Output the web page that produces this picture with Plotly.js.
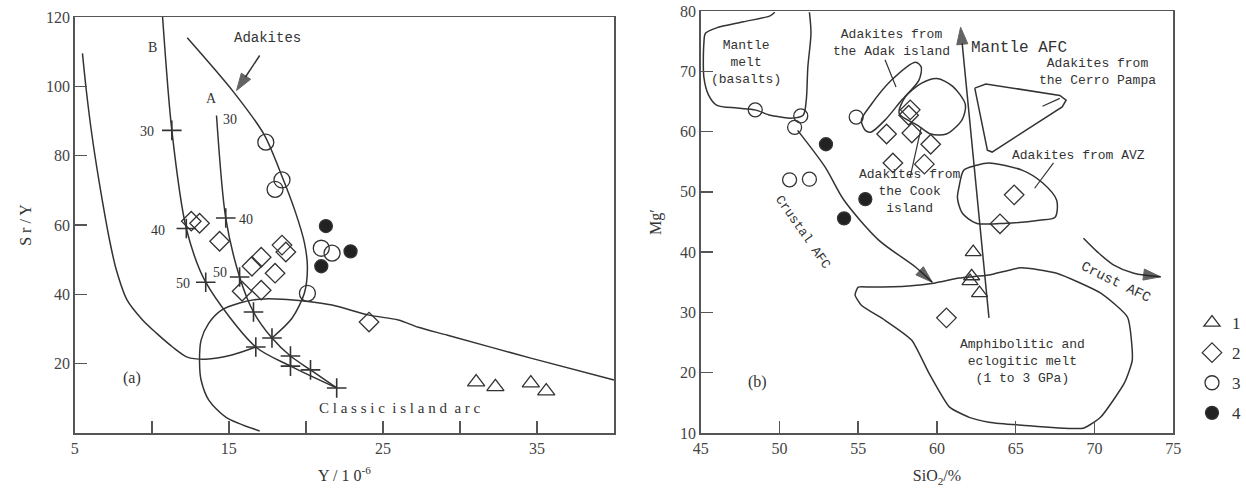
<!DOCTYPE html>
<html>
<head>
<meta charset="utf-8">
<script src="https://cdn.plot.ly/plotly-3.0.1.min.js"></script>
<style>html,body{margin:0;padding:0;background:#fff;}#chart{width:1246px;height:491px;}</style>
</head>
<body>
<div id="chart"></div>
<script>
// ---------- Panel (a): Sr/Y vs Y ----------
const aTriX = [31.05, 32.3, 34.6, 35.6];
const aTriY = [14.7, 13.3, 14.4, 12.1];
const aDiamondX = [12.56, 13.1, 14.4, 18.45, 18.7, 17.1, 16.5, 18.0, 15.86, 17.1, 24.1];
const aDiamondY = [61.1, 60.5, 55.3, 54.2, 52.2, 50.7, 48.1, 46.1, 40.9, 41.2, 32.0];
const aCircleX = [17.4, 18.45, 18.0, 21.0, 21.7, 20.1];
const aCircleY = [83.9, 73.0, 70.3, 53.3, 51.9, 40.3];
const aFilledX = [21.3, 22.9, 21.0];
const aFilledY = [59.7, 52.4, 48.1];

// melting curves B and A with tick crosses
const curveBX = [10.7, 11.3, 12.24, 13.5, 16.75, 19.0, 22.0];
const curveBY = [120, 87.3, 59.0, 43.5, 24.8, 19.3, 13.0];
const crossBX = [11.3, 12.24, 13.5, 16.75, 19.0, 22.0];
const crossBY = [87.3, 59.0, 43.5, 24.8, 19.3, 13.0];
const curveAX = [14.2, 14.8, 15.7, 16.6, 17.8, 19.0, 20.3, 22.0];
const curveAY = [91.6, 62.0, 45.0, 34.9, 27.4, 22.2, 18.2, 13.0];
const crossAX = [14.8, 15.7, 16.6, 17.8, 19.0, 20.3];
const crossAY = [62.0, 45.0, 34.9, 27.4, 22.2, 18.2];

// field boundaries
const adakiteX = [12.3, 15.3, 17.3, 18.5, 19.3, 19.9, 20.1, 19.9, 19.1, 17.8];
const adakiteY = [114, 98.4, 86.0, 73.5, 64.0, 55.0, 47.9, 40.3, 33.1, 27.4];
const leftCurveX = [5.5, 5.75, 6.1, 6.6, 7.26, 7.7, 8.4, 9.4, 10.3, 11.35, 12.3, 13.5, 15.2, 16.75];
const leftCurveY = [109.5, 98.8, 86.4, 72.0, 55.6, 47.0, 38.3, 32.6, 28.8, 24.8, 21.9, 21.3, 22.5, 24.8];
const arcX = [40, 34.6, 29.2, 27.3, 26.0, 24.1, 21.7, 20.0, 18.45, 17.0, 15.7, 14.5, 13.7, 13.2, 13.1, 13.2, 13.7, 14.8, 17.0];
const arcY = [15.3, 21.6, 28.2, 30.5, 32.6, 34.0, 36.9, 38.0, 38.6, 38.6, 37.5, 35.4, 31.7, 26.8, 20.2, 15.3, 9.5, 4.6, 0.6];
const adakArrowX = [17.0, 15.5];
const adakArrowY = [108.9, 98.8];

const aXTicks = [5, 15, 25, 35];
const aYTicks = [20, 40, 60, 80, 100, 120];

// ---------- Panel (b): Mg# vs SiO2 ----------
const bTriX = [62.3, 62.2, 62.1, 62.7];
const bTriY = [40.0, 36.0, 35.2, 33.2];
const bDiamondX = [56.8, 58.3, 58.2, 58.4, 59.6, 57.2, 59.2, 64.9, 64.0, 60.6];
const bDiamondY = [59.6, 63.6, 62.7, 59.75, 57.9, 54.8, 54.6, 49.5, 44.7, 29.1];
const bCircleX = [48.46, 51.35, 50.96, 50.64, 51.9, 54.87];
const bCircleY = [63.6, 62.6, 60.7, 52.0, 52.1, 62.4];
const bFilledX = [52.95, 55.45, 54.1];
const bFilledY = [57.9, 48.8, 45.6];

const mantleMeltX = [49.7, 49.4, 47.7, 46.0, 45.3, 45.2, 45.2, 45.5, 46.0, 47.3, 48.46, 49.4, 50.1, 50.7, 51.5, 51.7, 51.8, 52.0, 51.9];
const mantleMeltY = [79.8, 79.2, 78.2, 77.2, 76.3, 74.7, 69.0, 66.05, 64.4, 63.9, 63.6, 62.7, 62.4, 62.2, 62.7, 65.2, 70.7, 76.3, 79.8];
const adakIslandX = [55.45, 55.2, 55.8, 57.1, 58.65, 59.0, 58.85, 57.75, 56.7, 55.8, 55.45];
const adakIslandY = [60.2, 61.9, 64.4, 68.5, 71.5, 70.7, 68.5, 65.2, 61.9, 59.9, 60.2];
const cookIslandX = [57.6, 58.0, 59.0, 60.0, 61.0, 61.8, 61.6, 60.6, 59.6, 58.8, 57.6];
const cookIslandY = [63.0, 65.8, 68.0, 68.8, 67.5, 64.5, 62.0, 59.6, 59.6, 61.0, 63.0];
const cerroPampaX = [62.4, 63.1, 67.8, 68.2, 67.95, 63.5, 63.2, 62.4];
const cerroPampaY = [67.2, 67.9, 66.0, 65.2, 64.1, 56.6, 56.9, 67.2];
const avzX = [61.4, 61.7, 62.5, 63.3, 65.4, 66.7, 67.6, 67.5, 66.5, 64.4, 62.5, 61.6, 61.3, 61.4];
const avzY = [50.8, 53.6, 54.4, 54.8, 53.6, 51.5, 48.6, 45.8, 45.3, 44.8, 44.8, 46.5, 49.0, 50.8];
const amphX = [55.0, 54.8, 55.2, 56.7, 58.4, 59.5, 60.8, 62.05, 63.3, 65.4, 69.3, 70.4, 71.9, 72.4, 72.1, 70.4, 67.6, 65.3, 63.3, 61.4, 59.9, 58.2, 55.8, 55.0];
const amphY = [34.2, 32.9, 31.2, 28.7, 25.4, 19.9, 14.3, 12.6, 11.8, 11.3, 10.8, 12.65, 18.3, 22.1, 29.2, 33.2, 36.5, 37.4, 36.2, 35.7, 34.9, 34.4, 34.2, 34.2];

const adakPointerX = [56.7, 57.4];  const adakPointerY = [71.9, 67.4];
const cookPointerX = [59.0, 58.3];  const cookPointerY = [60.7, 52.5];
const cerroPointerX = [66.7, 67.8]; const cerroPointerY = [64.2, 65.5];
const avzPointerX = [66.2, 67.4];   const avzPointerY = [50.6, 54.8];

const crustalAfcX = [51.15, 52.9, 54.1, 56.3, 58.65, 59.7];
const crustalAfcY = [60.2, 54.1, 48.6, 42.0, 37.5, 35.0];
const crustAfcX = [69.3, 70.2, 71.2, 72.5, 74.2];
const crustAfcY = [42.3, 40.0, 37.9, 36.5, 35.9];
const mantleAfcX = [63.3, 61.5];
const mantleAfcY = [29.1, 77.3];

const bXTicks = [45, 50, 55, 60, 65, 70, 75];
const bYTicks = [10, 20, 30, 40, 50, 60, 70, 80];
const legendNames = ['1', '2', '3', '4'];

// ---------- styles ----------
const INK = '#333';
const LW = 1.5;
const SERIF = 'Liberation Serif, serif';
const MONO = 'Liberation Mono, monospace';

function line(x, y, xa, ya, opts) {
  return Object.assign({x: x, y: y, xaxis: xa, yaxis: ya, mode: 'lines', type: 'scatter',
    line: {color: INK, width: LW, shape: 'spline', smoothing: 0.8}, showlegend: false, hoverinfo: 'skip'}, opts || {});
}
// line ending in an arrowhead (marker 'arrow' oriented along the last segment)
function arrowLine(x, y, xa, ya, headSize, shape) {
  const sizes = x.map((v, i) => (i === x.length - 1 ? headSize : 0));
  return {x: x, y: y, xaxis: xa, yaxis: ya, mode: 'lines+markers', type: 'scatter', showlegend: false, hoverinfo: 'skip',
    line: {color: INK, width: LW, shape: shape || 'spline', smoothing: 0.8},
    marker: {symbol: 'arrow', angleref: 'previous', size: sizes, color: '#222', line: {color: '#222', width: 1}}};
}
function pts(x, y, xa, ya, symbol, size, name, show, fill) {
  return {x: x, y: y, xaxis: xa, yaxis: ya, mode: 'markers', type: 'scatter', name: name,
    showlegend: show, legendgroup: name,
    marker: {symbol: symbol, size: size, color: fill ? '#222' : INK, line: {color: INK, width: 1.3}}};
}
function crosses(x, y) {
  return {x: x, y: y, xaxis: 'x', yaxis: 'y', mode: 'markers', type: 'scatter', showlegend: false,
    marker: {symbol: 'cross-thin-open', size: 14, color: INK, line: {color: INK, width: 1.6}}};
}

const traces = [
  // panel a lines
  line(curveBX, curveBY, 'x', 'y'),
  line(curveAX, curveAY, 'x', 'y'),
  line(adakiteX, adakiteY, 'x', 'y'),
  line(leftCurveX, leftCurveY, 'x', 'y'),
  line(arcX, arcY, 'x', 'y'),
  arrowLine(adakArrowX, adakArrowY, 'x', 'y', 18, 'linear'),
  crosses(crossBX, crossBY),
  crosses(crossAX, crossAY),
  pts(aTriX, aTriY, 'x', 'y', 'triangle-up-open', 15, '1', false, false),
  pts(aDiamondX, aDiamondY, 'x', 'y', 'diamond-open', 15, '2', false, false),
  pts(aCircleX, aCircleY, 'x', 'y', 'circle-open', 16, '3', false, false),
  pts(aFilledX, aFilledY, 'x', 'y', 'circle', 13, '4', false, true),
  // panel b lines
  line(mantleMeltX, mantleMeltY, 'x2', 'y2'),
  line(adakIslandX, adakIslandY, 'x2', 'y2'),
  line(cookIslandX, cookIslandY, 'x2', 'y2'),
  line(cerroPampaX, cerroPampaY, 'x2', 'y2', {line: {color: INK, width: LW, shape: 'linear'}}),
  line(avzX, avzY, 'x2', 'y2'),
  line(amphX, amphY, 'x2', 'y2', {line: {color: INK, width: LW, shape: 'spline', smoothing: 0.5}}),
  line(adakPointerX, adakPointerY, 'x2', 'y2', {line: {color: INK, width: 1.2}}),
  line(cookPointerX, cookPointerY, 'x2', 'y2', {line: {color: INK, width: 1.2}}),
  line(cerroPointerX, cerroPointerY, 'x2', 'y2', {line: {color: INK, width: 1.2}}),
  line(avzPointerX, avzPointerY, 'x2', 'y2', {line: {color: INK, width: 1.2}}),
  arrowLine(crustalAfcX, crustalAfcY, 'x2', 'y2', 18),
  arrowLine(crustAfcX, crustAfcY, 'x2', 'y2', 18),
  arrowLine(mantleAfcX, mantleAfcY, 'x2', 'y2', 18, 'linear'),
  pts(bTriX, bTriY, 'x2', 'y2', 'triangle-up-open', 14, legendNames[0], true, false),
  pts(bDiamondX, bDiamondY, 'x2', 'y2', 'diamond-open', 15, legendNames[1], true, false),
  pts(bCircleX, bCircleY, 'x2', 'y2', 'circle-open', 14, legendNames[2], true, false),
  pts(bFilledX, bFilledY, 'x2', 'y2', 'circle', 13, legendNames[3], true, true)
];

function txt(x, y, text, xr, yr, size, family, extra) {
  return Object.assign({x: x, y: y, xref: xr, yref: yr, text: text, showarrow: false,
    font: {family: family || MONO, size: size || 13, color: INK}}, extra || {});
}

const annotations = [
  // panel a
  txt(17.5, 113.8, 'Adakites', 'x', 'y', 14),
  txt(10.04, 111.2, 'B', 'x', 'y', 14, SERIF),
  txt(13.9, 96.5, 'A', 'x', 'y', 14, SERIF),
  txt(9.7, 87.0, '30', 'x', 'y', 14, SERIF),
  txt(15.1, 90.5, '30', 'x', 'y', 14, SERIF),
  txt(10.4, 58.5, '40', 'x', 'y', 14, SERIF),
  txt(16.1, 61.7, '40', 'x', 'y', 14, SERIF),
  txt(12.0, 43.2, '50', 'x', 'y', 14, SERIF),
  txt(14.4, 46.4, '50', 'x', 'y', 14, SERIF),
  txt(8.7, 15.8, '(a)', 'x', 'y', 16, SERIF),
  txt(26.1, 7.2, 'C l a s s i c  i s l a n d  a r c', 'x', 'y', 15, SERIF),
  // panel b
  txt(47.9, 71.4, 'Mantle<br>melt<br>(basalts)', 'x2', 'y2', 13),
  txt(57.1, 74.7, 'Adakites from<br>the Adak island', 'x2', 'y2', 13),
  txt(58.3, 50.0, 'Adakites from<br>the Cook<br>island', 'x2', 'y2', 13),
  txt(65.2, 73.8, 'Mantle AFC', 'x2', 'y2', 16),
  txt(70.2, 69.9, 'Adakites from<br>the Cerro Pampa', 'x2', 'y2', 13),
  txt(69.0, 56.1, 'Adakites from AVZ', 'x2', 'y2', 13),
  txt(71.35, 35.0, 'Crust AFC', 'x2', 'y2', 14, MONO, {textangle: 26}),
  txt(51.5, 43.3, 'Crustal AFC', 'x2', 'y2', 13, MONO, {textangle: 55}),
  txt(65.4, 21.8, 'Amphibolitic and<br>eclogitic melt<br>(1 to 3 GPa)', 'x2', 'y2', 13),
  txt(48.6, 18.5, '(b)', 'x2', 'y2', 16, SERIF)
];

function axis(extra) {
  return Object.assign({showgrid: false, zeroline: false, showline: true, mirror: true, linecolor: '#555', linewidth: 1.5,
    ticks: 'inside', ticklen: 12, tickwidth: 1.5, tickcolor: '#555', automargin: false,
    tickfont: {family: SERIF, size: 16, color: '#444'}, fixedrange: true}, extra);
}
function title(text, standoff) {
  return {text: text, standoff: standoff, font: {family: SERIF, size: 16, color: INK}};
}

const layout = {
  width: 1246, height: 491,
  margin: {l: 0, r: 0, t: 0, b: 0},
  paper_bgcolor: '#fff', plot_bgcolor: '#fff',
  showlegend: true,
  legend: {x: 1196 / 1246, y: 1 - 305 / 491, xanchor: 'left', yanchor: 'top', tracegroupgap: 5,
    font: {family: SERIF, size: 17, color: INK}, bgcolor: 'rgba(0,0,0,0)', itemwidth: 30},
  xaxis: axis({domain: [75 / 1246, 616 / 1246], range: [5, 40], tickvals: aXTicks, anchor: 'y',
    title: title('Y / 1 0<sup>-6</sup>', 14),
    minor: {dtick: 5, tick0: 5, ticks: 'inside', ticklen: 12, tickwidth: 1.5, tickcolor: '#555', showgrid: false}}),
  yaxis: axis({domain: [1 - 433 / 491, 1 - 17 / 491], range: [0, 120], tickvals: aYTicks, anchor: 'x',
    title: title('S r / Y', 10)}),
  xaxis2: axis({domain: [703 / 1246, 1177 / 1246], range: [45, 75], tickvals: bXTicks, anchor: 'y2',
    title: title('SiO<sub>2</sub>/%', 14)}),
  yaxis2: axis({domain: [1 - 433 / 491, 1 - 11 / 491], range: [10, 80], tickvals: bYTicks, anchor: 'x2',
    title: title('Mg′', 14)}),
  annotations: annotations
};

Plotly.newPlot('chart', traces, layout, {staticPlot: true, displayModeBar: false});
</script>
</body>
</html>
